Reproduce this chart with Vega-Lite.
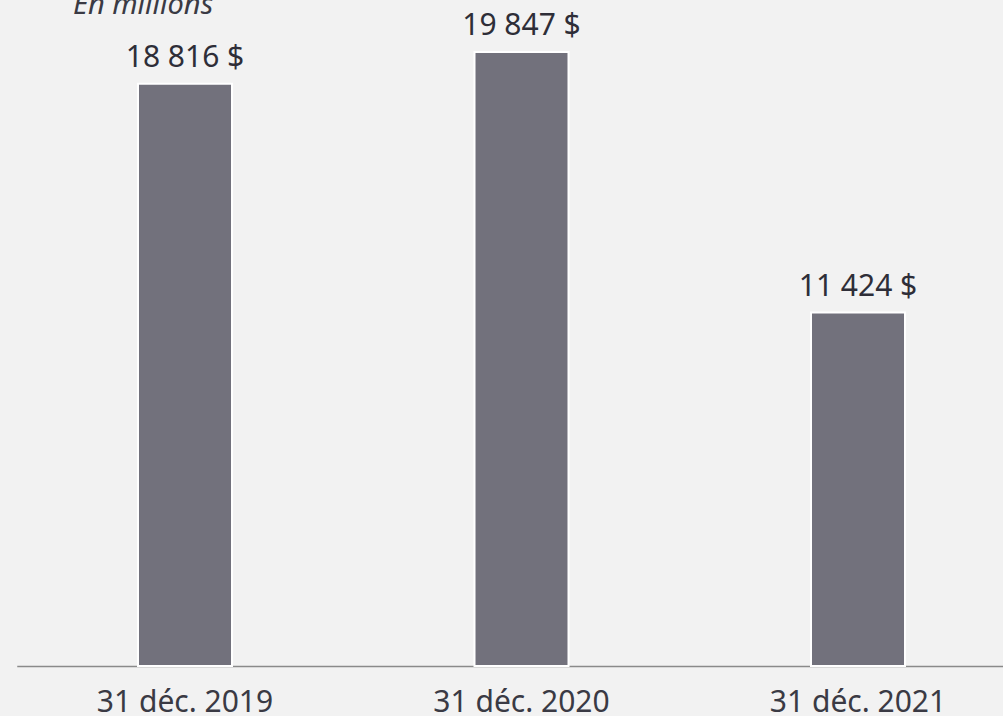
{
  "$schema": "https://vega.github.io/schema/vega-lite/v6.json",
  "width": 988,
  "height": 666,
  "autosize": {"type": "none"},
  "padding": {"left": 15, "top": 0, "right": 0, "bottom": 50},
  "background": "#f2f2f2",
  "config": {"view": {"stroke": null}, "font": "Noto Sans"},
  "title": {
    "text": "En millions",
    "anchor": "start",
    "frame": "group",
    "orient": "top",
    "baseline": "alphabetic",
    "offset": 0,
    "dy": 43,
    "dx": 58,
    "fontSize": 29,
    "fontStyle": "italic",
    "fontWeight": "normal",
    "font": "Noto Sans",
    "color": "#3a3a44"
  },
  "data": {
    "values": [
      {"date": "31 déc. 2019", "value": 18816, "label": "18 816 $"},
      {"date": "31 déc. 2020", "value": 19847, "label": "19 847 $"},
      {"date": "31 déc. 2021", "value": 11424, "label": "11 424 $"}
    ]
  },
  "encoding": {
    "x": {
      "field": "date",
      "type": "nominal",
      "sort": null,
      "scale": {"range": [1.75, 1011.25], "paddingInner": 0, "paddingOuter": 0},
      "axis": {
        "title": null,
        "labelAngle": 0,
        "ticks": false,
        "tickSize": 0,
        "labelPadding": 45,
        "labelBaseline": "alphabetic",
        "labelFontSize": 30,
        "labelColor": "#3a3a44",
        "labelFont": "Noto Sans",
        "domainColor": "#8a8a8a",
        "domainWidth": 1.5
      }
    },
    "y": {
      "field": "value",
      "type": "quantitative",
      "scale": {"domain": [0, 21525]},
      "axis": null
    }
  },
  "layer": [
    {
      "mark": {"type": "bar", "width": 94, "fill": "#72717c", "stroke": "#ffffff", "strokeWidth": 2}
    },
    {
      "mark": {"type": "text", "baseline": "alphabetic", "dy": -17, "fontSize": 30, "color": "#2e2e38", "font": "Noto Sans"},
      "encoding": {"text": {"field": "label"}}
    }
  ]
}
